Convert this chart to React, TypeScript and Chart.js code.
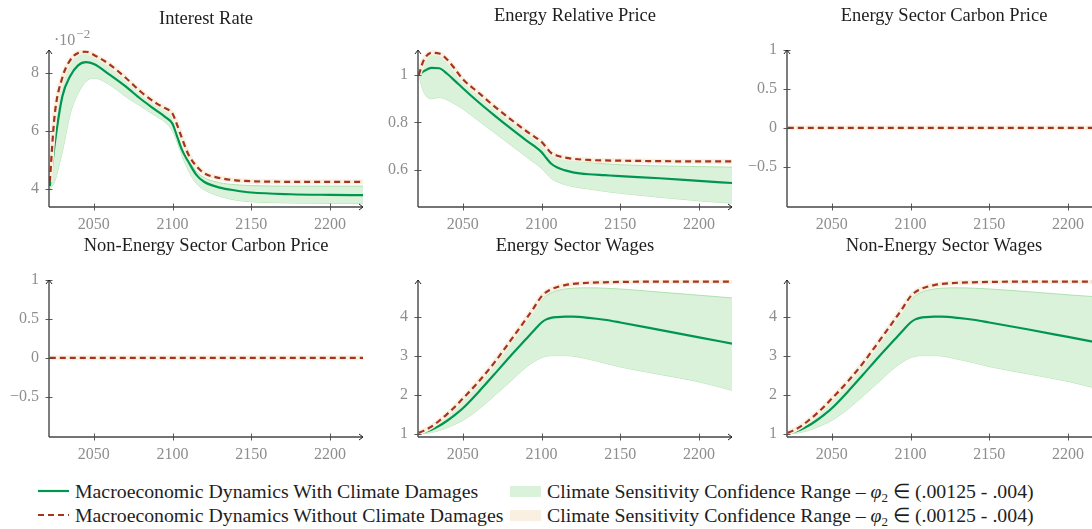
import React, { useEffect, useRef } from 'react';
import { Chart, registerables } from 'chart.js';

Chart.register(...registerables);

// ---------- data ----------
const YEARS = [2022, 2025, 2030, 2035, 2040, 2045, 2050, 2060, 2070, 2080, 2090, 2095, 2100, 2103, 2106, 2110, 2115, 2120, 2130, 2140, 2150, 2175, 2200, 2221];
const X_TICKS = [2050, 2100, 2150, 2200];

// Interest rate (x 10^-2)
const interestWith = [4.1, 5.5, 7.2, 7.9, 8.27, 8.38, 8.32, 7.95, 7.55, 7.1, 6.7, 6.5, 6.25, 5.8, 5.35, 4.95, 4.5, 4.25, 4.05, 3.95, 3.88, 3.82, 3.8, 3.79];
const interestWithout = [4.25, 6.5, 7.85, 8.45, 8.7, 8.74, 8.63, 8.3, 7.85, 7.35, 6.95, 6.8, 6.6, 6.2, 5.75, 5.2, 4.8, 4.55, 4.38, 4.3, 4.27, 4.25, 4.25, 4.25];
const interestLow = [4.0, 4.25, 5.3, 6.6, 7.3, 7.72, 7.83, 7.6, 7.2, 6.85, 6.5, 6.32, 6.0, 5.6, 5.15, 4.65, 4.2, 3.98, 3.75, 3.62, 3.56, 3.52, 3.5, 3.5];
const interestUp = [4.2, 6.4, 7.8, 8.4, 8.65, 8.7, 8.6, 8.27, 7.82, 7.32, 6.92, 6.77, 6.55, 6.15, 5.65, 5.1, 4.62, 4.4, 4.22, 4.15, 4.12, 4.1, 4.1, 4.1];
const interestTicks = [4, 6, 8];

// Energy relative price
const priceWith = [1.0, 1.015, 1.03, 1.028, 1.005, 0.975, 0.944, 0.885, 0.83, 0.777, 0.726, 0.702, 0.675, 0.65, 0.627, 0.61, 0.598, 0.59, 0.582, 0.578, 0.574, 0.565, 0.554, 0.545];
const priceWithout = [1.0, 1.06, 1.093, 1.09, 1.065, 1.025, 0.982, 0.925, 0.868, 0.815, 0.765, 0.742, 0.718, 0.695, 0.672, 0.66, 0.652, 0.647, 0.642, 0.64, 0.639, 0.637, 0.636, 0.636];
const priceLow = [1.0, 0.93, 0.9, 0.905, 0.895, 0.877, 0.857, 0.807, 0.757, 0.707, 0.657, 0.632, 0.607, 0.585, 0.565, 0.55, 0.538, 0.53, 0.52, 0.51, 0.502, 0.485, 0.47, 0.46];
const priceUp = [1.0, 1.055, 1.088, 1.085, 1.06, 1.02, 0.978, 0.92, 0.863, 0.81, 0.76, 0.737, 0.713, 0.69, 0.667, 0.655, 0.647, 0.64, 0.632, 0.626, 0.622, 0.617, 0.614, 0.612];
const priceTicks = [0.6, 0.8, 1];

// Carbon prices (flat zero)
const carbonEnergy = [0, 0, 0, 0, 0, 0, 0, 0, 0, 0, 0, 0, 0, 0, 0, 0, 0, 0, 0, 0, 0, 0, 0, 0];
const carbonNonEnergy = [0, 0, 0, 0, 0, 0, 0, 0, 0, 0, 0, 0, 0, 0, 0, 0, 0, 0, 0, 0, 0, 0, 0, 0];
const carbonTicks = [-0.5, 0, 0.5, 1];

// Energy sector wages
const wageEWith = [1.0, 1.03, 1.1, 1.2, 1.33, 1.48, 1.65, 2.07, 2.52, 2.98, 3.42, 3.64, 3.85, 3.93, 3.97, 3.99, 4.0, 4.0, 3.97, 3.92, 3.85, 3.66, 3.47, 3.31];
const wageEWithout = [1.02, 1.07, 1.18, 1.33, 1.5, 1.69, 1.9, 2.33, 2.82, 3.37, 3.93, 4.22, 4.52, 4.63, 4.7, 4.76, 4.81, 4.84, 4.87, 4.88, 4.89, 4.9, 4.9, 4.9];
const wageELow = [1.0, 1.0, 1.03, 1.08, 1.15, 1.24, 1.34, 1.62, 1.97, 2.33, 2.7, 2.84, 2.95, 2.98, 3.0, 3.0, 3.0, 2.99, 2.91, 2.81, 2.71, 2.52, 2.33, 2.11];
const wageEUp = [1.02, 1.06, 1.16, 1.31, 1.48, 1.67, 1.88, 2.3, 2.79, 3.34, 3.88, 4.15, 4.42, 4.54, 4.61, 4.67, 4.71, 4.73, 4.74, 4.73, 4.71, 4.63, 4.55, 4.48];

// Non-energy sector wages
const wageNWith = [1.0, 1.03, 1.1, 1.2, 1.33, 1.48, 1.65, 2.07, 2.52, 2.98, 3.42, 3.64, 3.85, 3.93, 3.97, 3.99, 4.0, 4.0, 3.97, 3.92, 3.85, 3.67, 3.48, 3.32];
const wageNWithout = [1.02, 1.07, 1.18, 1.33, 1.5, 1.69, 1.9, 2.33, 2.82, 3.37, 3.93, 4.22, 4.52, 4.63, 4.7, 4.76, 4.81, 4.84, 4.87, 4.88, 4.89, 4.9, 4.9, 4.9];
const wageNLow = [1.0, 1.0, 1.03, 1.08, 1.15, 1.24, 1.34, 1.62, 1.97, 2.33, 2.7, 2.84, 2.95, 2.98, 3.0, 3.0, 3.0, 2.99, 2.91, 2.82, 2.72, 2.53, 2.34, 2.13];
const wageNUp = [1.02, 1.06, 1.16, 1.31, 1.48, 1.67, 1.88, 2.3, 2.79, 3.34, 3.88, 4.15, 4.42, 4.54, 4.61, 4.67, 4.71, 4.73, 4.74, 4.73, 4.71, 4.64, 4.56, 4.5];
const wageTicks = [1, 2, 3, 4];

const TITLES = ['Interest Rate', 'Energy Relative Price', 'Energy Sector Carbon Price', 'Non-Energy Sector Carbon Price', 'Energy Sector Wages', 'Non-Energy Sector Wages'];
const LEGEND_LINES = ['Macroeconomic Dynamics With Climate Damages', 'Macroeconomic Dynamics Without Climate Damages'];
const LEGEND_BAND = 'Climate Sensitivity Confidence Range – ';

// ---------- styles ----------
const GREEN = 'rgb(0,150,80)';
const RED = 'rgb(165,52,28)';
const BAND_FILL = 'rgb(218,241,218)';
const BAND_EDGE = 'rgb(160,220,160)';
const CREAM = 'rgb(250,240,226)';
const SERIF = "'Liberation Serif', 'Times New Roman', serif";
const TICK_COLOR = '#8e8e8e';
const CW = 369;
const CH = 230;

type PanelCfg = {
  title: string;
  withD: number[];
  withoutD: number[];
  low: number[];
  up: number[];
  yMin: number;
  yMax: number;
  yTicks: number[];
  titleY: number;
  exp?: boolean;
};

const PANELS: PanelCfg[] = [
  { title: TITLES[0], withD: interestWith, withoutD: interestWithout, low: interestLow, up: interestUp, yMin: 3.38, yMax: 8.8, yTicks: interestTicks, titleY: 24, exp: true },
  { title: TITLES[1], withD: priceWith, withoutD: priceWithout, low: priceLow, up: priceUp, yMin: 0.444, yMax: 1.105, yTicks: priceTicks, titleY: 21 },
  { title: TITLES[2], withD: carbonEnergy, withoutD: carbonEnergy, low: carbonEnergy, up: carbonEnergy, yMin: -1.017, yMax: 1, yTicks: carbonTicks, titleY: 21 },
  { title: TITLES[3], withD: carbonNonEnergy, withoutD: carbonNonEnergy, low: carbonNonEnergy, up: carbonNonEnergy, yMin: -1.017, yMax: 1, yTicks: carbonTicks, titleY: 21 },
  { title: TITLES[4], withD: wageEWith, withoutD: wageEWithout, low: wageELow, up: wageEUp, yMin: 0.913, yMax: 4.94, yTicks: wageTicks, titleY: 21 },
  { title: TITLES[5], withD: wageNWith, withoutD: wageNWithout, low: wageNLow, up: wageNUp, yMin: 0.913, yMax: 4.94, yTicks: wageTicks, titleY: 21 },
];

const pts = (vals: number[]) => vals.map((v, i) => ({ x: YEARS[i], y: v }));
const fmt = (v: number) => (v < 0 ? '\u2212' + String(Math.abs(v)) : String(v));

const pgfPlugin = {
  id: 'pgf',
  afterDatasetsDraw(chart: any, _args: any, opts: any) {
    const { ctx, chartArea: a, scales } = chart;
    const x = scales.x;
    const y = scales.y;
    ctx.save();
    ctx.strokeStyle = '#474747';
    ctx.lineWidth = 1.4;
    ctx.lineCap = 'butt';
    // axes
    ctx.beginPath();
    ctx.moveTo(a.left, a.bottom);
    ctx.lineTo(a.left, a.top);
    ctx.moveTo(a.left, a.bottom);
    ctx.lineTo(a.right, a.bottom);
    ctx.stroke();
    // ticks
    ctx.beginPath();
    for (const t of x.ticks) {
      const px = Math.round(x.getPixelForValue(t.value)) + 0.5;
      ctx.moveTo(px, a.bottom - 3.5);
      ctx.lineTo(px, a.bottom + 3.5);
    }
    for (const t of y.ticks) {
      const py = Math.round(y.getPixelForValue(t.value)) + 0.5;
      ctx.moveTo(a.left - 3.5, py);
      ctx.lineTo(a.left + 3.5, py);
    }
    ctx.lineWidth = 0.9;
    ctx.stroke();
    // arrows
    ctx.strokeStyle = '#222';
    ctx.lineWidth = 1;
    ctx.beginPath();
    ctx.moveTo(a.left - 3, a.top + 4);
    ctx.lineTo(a.left, a.top);
    ctx.lineTo(a.left + 3, a.top + 4);
    ctx.moveTo(a.right - 4, a.bottom - 3);
    ctx.lineTo(a.right, a.bottom);
    ctx.lineTo(a.right - 4, a.bottom + 3);
    ctx.stroke();
    // title
    ctx.fillStyle = '#1e1e1e';
    ctx.font = `18.5px ${SERIF}`;
    ctx.textAlign = 'center';
    ctx.textBaseline = 'alphabetic';
    ctx.fillText(opts.title, (a.left + a.right) / 2, opts.titleY);
    if (opts.exp) {
      ctx.fillStyle = TICK_COLOR;
      ctx.textAlign = 'left';
      ctx.font = `16px ${SERIF}`;
      ctx.fillText('\u00b710', 54, 45);
      const w = ctx.measureText('\u00b710').width;
      ctx.font = `13px ${SERIF}`;
      ctx.fillText('\u22122', 54 + w + 1, 38);
    }
    ctx.restore();
  },
};

function Panel({ cfg, left, top }: { cfg: PanelCfg; left: number; top: number }) {
  const ref = useRef<HTMLCanvasElement>(null);
  useEffect(() => {
    const line = (data: number[], extra: any) => ({
      data: pts(data),
      pointRadius: 0,
      pointHoverRadius: 0,
      cubicInterpolationMode: 'monotone',
      fill: false,
      ...extra,
    });
    const chart = new Chart(ref.current as HTMLCanvasElement, {
      type: 'line',
      data: {
        datasets: [
          line(cfg.withoutD, { label: LEGEND_LINES[1], borderColor: RED, borderWidth: 2.2, borderDash: [6, 4], order: 0 }),
          line(cfg.withoutD, { label: 'halo', borderColor: CREAM, borderWidth: 5, order: 1 }),
          line(cfg.withD, { label: LEGEND_LINES[0], borderColor: GREEN, borderWidth: 2.2, order: 2 }),
          line(cfg.up, { label: 'upper', borderColor: BAND_EDGE, borderWidth: 0.8, backgroundColor: BAND_FILL, fill: '+1', order: 3 }),
          line(cfg.low, { label: 'lower', borderColor: BAND_EDGE, borderWidth: 0.8, order: 4 }),
        ],
      },
      options: {
        animation: false,
        responsive: false,
        devicePixelRatio: 1,
        events: [],
        layout: { padding: { top: 50, left: 0, right: 6, bottom: 0 } },
        plugins: {
          legend: { display: false },
          tooltip: { enabled: false },
          title: { display: false },
          pgf: { title: cfg.title, titleY: cfg.titleY, exp: !!cfg.exp },
        } as any,
        scales: {
          x: {
            type: 'linear',
            min: 2021.5,
            max: 2221,
            grid: { display: false, drawTicks: false },
            border: { display: false },
            afterBuildTicks: (s: any) => {
              s.ticks = X_TICKS.map((v) => ({ value: v }));
            },
            afterFit: (s: any) => {
              s.height = 23;
            },
            ticks: {
              padding: 8,
              color: TICK_COLOR,
              font: { family: SERIF, size: 16 },
              maxRotation: 0,
              callback: (v: any) => String(v),
            },
          },
          y: {
            type: 'linear',
            min: cfg.yMin,
            max: cfg.yMax,
            grid: { display: false, drawTicks: false },
            border: { display: false },
            afterBuildTicks: (s: any) => {
              s.ticks = cfg.yTicks.map((v) => ({ value: v }));
            },
            afterFit: (s: any) => {
              s.width = 49;
            },
            ticks: {
              padding: 10,
              color: TICK_COLOR,
              font: { family: SERIF, size: 16 },
              callback: (v: any) => fmt(Number(v)),
            },
          },
        },
      },
      plugins: [pgfPlugin as any],
    });
    return () => chart.destroy();
  }, [cfg]);
  return (
    <canvas
      ref={ref}
      width={CW}
      height={CH}
      style={{ position: 'absolute', left, top, width: CW, height: CH }}
    />
  );
}

const legendText: React.CSSProperties = {
  position: 'absolute',
  fontFamily: SERIF,
  fontSize: 19.8,
  color: '#1e1e1e',
  lineHeight: '24px',
  whiteSpace: 'nowrap',
};

const subStyle: React.CSSProperties = { fontSize: 13, verticalAlign: 'baseline', position: 'relative', top: 4 };

export default function App() {
  return (
    <div
      style={{
        position: 'absolute',
        left: 0,
        top: 0,
        width: 1092,
        height: 529,
        overflow: 'hidden',
        background: '#fff',
      }}
    >
      {PANELS.map((p, i) => (
        <Panel key={i} cfg={p} left={(i % 3) * CW} top={Math.floor(i / 3) * CH} />
      ))}
      {/* legend */}
      <svg style={{ position: 'absolute', left: 38, top: 486, width: 32, height: 36 }} width={32} height={36}>
        <line x1={0} y1={5} x2={31} y2={5} stroke={GREEN} strokeWidth={2.2} />
        <line x1={0} y1={29} x2={31} y2={29} stroke={RED} strokeWidth={2.2} strokeDasharray="6 4" />
      </svg>
      <div style={{ ...legendText, left: 75, top: 479 }}>{LEGEND_LINES[0]}</div>
      <div style={{ ...legendText, left: 75, top: 503 }}>{LEGEND_LINES[1]}</div>
      <div style={{ position: 'absolute', left: 510, top: 486, width: 31, height: 11, background: BAND_FILL }} />
      <div style={{ position: 'absolute', left: 510, top: 510, width: 31, height: 11, background: CREAM }} />
      <div style={{ ...legendText, left: 547, top: 479 }}>
        {LEGEND_BAND}
        <i>φ</i>
        <sub style={subStyle}>2</sub>
        {' ∈ (.00125 - .004)'}
      </div>
      <div style={{ ...legendText, left: 547, top: 503 }}>
        {LEGEND_BAND}
        <i>φ</i>
        <sub style={subStyle}>2</sub>
        {' ∈ (.00125 - .004)'}
      </div>
    </div>
  );
}
